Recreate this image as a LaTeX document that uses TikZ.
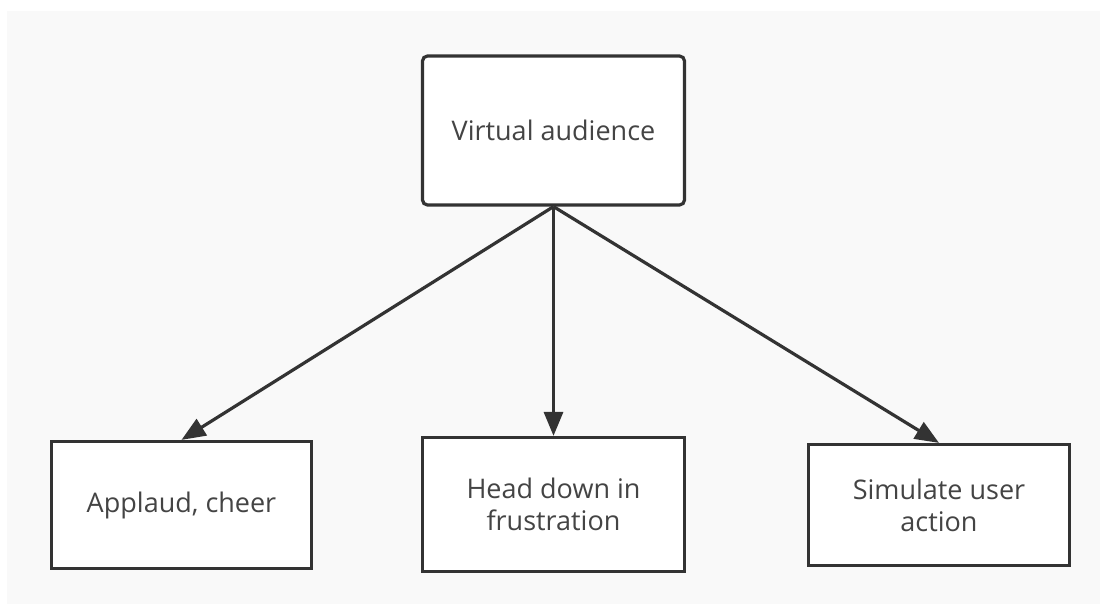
\documentclass[tikz,border=0pt]{standalone}
\usepackage{fontspec}
\setmainfont{Open Sans}
\usetikzlibrary{arrows.meta}
\definecolor{edge}{HTML}{333333}
\definecolor{ink}{HTML}{444444}
\definecolor{canvas}{HTML}{F9F9F9}
\tikzset{
  box/.style={draw=edge, fill=white, line width=3.2pt, inner sep=0pt,
    text=ink, font=\fontsize{27}{32}\selectfont, align=center},
  rootbox/.style={box, rounded corners=5pt},
  link/.style={draw=edge, line width=3.2pt,
    -{Triangle[length=24pt,width=19pt]}}
}
\begin{document}
\begin{tikzpicture}[x=1pt,y=-1pt]
  % page and canvas
  \fill[white] (0,0) rectangle (1100,604);
  \fill[canvas] (7,11) rectangle (1100,604);
  \useasboundingbox (0,0) rectangle (1100,604);

  % nodes
  \node[rootbox, minimum width=262pt, minimum height=149pt] (root) at (553.5,130.5) {Virtual audience};
  \node[box, minimum width=260pt, minimum height=127pt] (cheer) at (181.5,505) {Applaud, cheer};
  \node[box, minimum width=262pt, minimum height=134pt] (head) at (553.5,504.5) {Head down in\\frustration};
  \node[box, minimum width=261pt, minimum height=121pt] (sim) at (939,505) {Simulate user\\action};

  % connectors
  \draw[link] (root.south) -- (cheer.north);
  \draw[link] (root.south) -- (head.north);
  \draw[link] (root.south) -- (sim.north);
\end{tikzpicture}
\end{document}
